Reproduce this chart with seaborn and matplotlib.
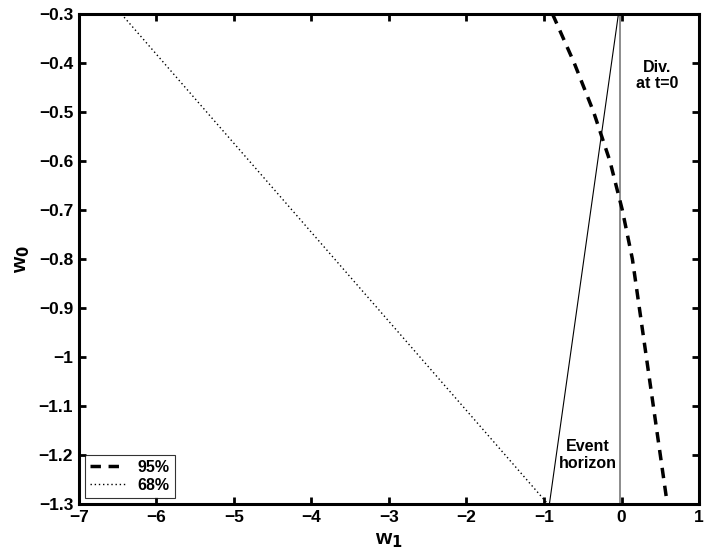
import numpy as np
import pandas as pd
import matplotlib
matplotlib.use("Agg")
import matplotlib.pyplot as plt
import seaborn as sns

# 95% contour (dashed)
w0_95 = [-0.30, -0.40, -0.50, -0.60, -0.70, -0.80, -0.90, -1.00, -1.10, -1.20, -1.30]
w1_95 = [-0.89, -0.61, -0.36, -0.15, 0.01, 0.14, 0.23, 0.32, 0.41, 0.50, 0.59]

# 68% contour (dotted)
w1_68 = [-6.45, -0.95]
w0_68 = [-0.30, -1.30]

# event horizon (thin solid) and divergence at t=0 (grey vertical)
w1_eh = [-0.93, -0.04]
w0_eh = [-1.30, -0.30]
w1_div = [-0.02, -0.02]
w0_div = [-1.30, -0.30]

xticks = [-7, -6, -5, -4, -3, -2, -1, 0, 1]
yticks = [-1.3, -1.2, -1.1, -1.0, -0.9, -0.8, -0.7, -0.6, -0.5, -0.4, -0.3]

sns.set_style("ticks")
plt.rcParams["font.family"] = ["Liberation Sans", "DejaVu Sans"]
plt.rcParams["font.weight"] = "bold"
plt.rcParams["axes.labelweight"] = "bold"
plt.rcParams["text.color"] = "black"
plt.rcParams["axes.labelcolor"] = "black"
plt.rcParams["xtick.color"] = "black"
plt.rcParams["ytick.color"] = "black"
plt.rcParams["axes.edgecolor"] = "black"

fig = plt.figure(figsize=(7.09, 5.60), dpi=100)
ax = fig.add_axes([0.111, 0.1, 0.875, 0.875])

# estimator=None so repeated x values (vertical line) are not averaged away
sns.lineplot(x=w1_div, y=w0_div, sort=False, estimator=None, ax=ax,
             color="#8c8c8c", lw=1.4)
sns.lineplot(x=w1_eh, y=w0_eh, sort=False, estimator=None, ax=ax,
             color="black", lw=0.8)
sns.lineplot(x=w1_95, y=w0_95, sort=False, estimator=None, ax=ax, color="black",
             lw=2.5, linestyle=(0, (3, 2.2)), label="95%")
sns.lineplot(x=w1_68, y=w0_68, sort=False, estimator=None, ax=ax, color="black",
             lw=1.0, linestyle=(0, (1, 2)), label="68%")

ax.text(-0.44, -1.2, "Event\nhorizon", ha="center", va="center",
        fontsize=11.5, fontweight="bold", linespacing=1.1)
ax.text(0.46, -0.425, "Div.\nat t=0", ha="center", va="center",
        fontsize=11.5, fontweight="bold", linespacing=1.1)

ax.set_xlim(-7, 1)
ax.set_ylim(-1.3, -0.3)
ax.set_xticks(xticks)
ax.set_xticklabels([f"{t:g}".replace("-", "\u2212") for t in xticks])
ax.set_yticks(yticks)
ax.set_yticklabels([f"{t:g}".replace("-", "\u2212") for t in yticks])
ax.tick_params(direction="in", length=5, width=2, labelsize=12.5, top=True, right=True, pad=4)
for lab in ax.get_xticklabels() + ax.get_yticklabels():
    lab.set_fontweight("bold")
for sp in ax.spines.values():
    sp.set_linewidth(2.2)
    sp.set_visible(True)

ax.set_xlabel("w$_\\mathbf{1}$", fontsize=15, fontweight="bold", labelpad=5)
ax.set_ylabel("w$_\\mathbf{0}$", fontsize=15, fontweight="bold", labelpad=5)

leg = ax.legend(loc="lower left", fontsize=11.5, frameon=True, fancybox=False,
                edgecolor="black", borderpad=0.3, handlelength=2.2,
                labelspacing=0.2, borderaxespad=0.4)
leg.get_frame().set_linewidth(0.8)
for t in leg.get_texts():
    t.set_fontweight("bold")

fig.savefig("out.png", dpi=100)
